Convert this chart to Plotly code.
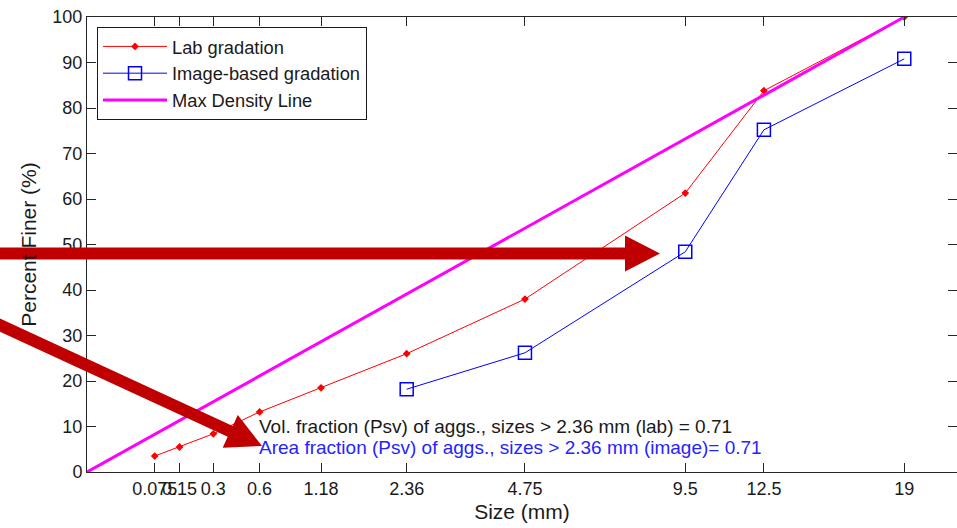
import plotly.graph_objects as go

# ---------------- data ----------------
sizes_lab = [0.075, 0.15, 0.3, 0.6, 1.18, 2.36, 4.75, 9.5, 12.5, 19]
pct_lab = [3.5, 5.5, 8.4, 13.2, 18.5, 26.0, 38.0, 61.3, 83.8, 100.0]

sizes_img = [2.36, 4.75, 9.5, 12.5, 19]
pct_img = [18.2, 26.2, 48.4, 75.2, 90.8]

sizes_mdl = [0, 19]
pct_mdl = [0, 100]

tick_sizes = [0.075, 0.15, 0.3, 0.6, 1.18, 2.36, 4.75, 9.5, 12.5, 19]
tick_labels = ["0.075", "0.15", "0.3", "0.6", "1.18", "2.36", "4.75", "9.5", "12.5", "19"]

POW = 0.45  # 0.45-power gradation chart scale


def sc(v):
    return [x ** POW for x in v]


W, H = 957, 528
ML, MR, MT, MB = 87, 0, 17, 56
PW, PH = W - ML - MR, H - MT - MB

FONT = "Liberation Sans, Arial, sans-serif"
TXT = "#1a1a1a"

fig = go.Figure()
fig.add_trace(go.Scatter(
    x=sc(sizes_lab), y=pct_lab, mode="lines+markers", name="Lab gradation",
    line=dict(color="#ff0000", width=1),
    marker=dict(symbol="diamond", size=6, color="#ff0000"),
    legendgroup="a"))
fig.add_trace(go.Scatter(
    x=sc(sizes_img), y=pct_img, mode="lines+markers", name="Image-based gradation",
    line=dict(color="#0000ff", width=1),
    marker=dict(symbol="square-open", size=13, color="#0000ff", line=dict(width=1.5)),
    legendgroup="b"))
fig.add_trace(go.Scatter(
    x=sc(sizes_mdl), y=pct_mdl, mode="lines", name="Max Density Line",
    line=dict(color="#ff00ff", width=3),
    legendgroup="c"))


def px2paper(px, py):
    return (px - ML) / PW, (H - MB - py) / PH


def arrow_path(tail, tip, shaft=12, head_len=35, head_w=36):
    import math
    (x0, y0), (x1, y1) = tail, tip
    dx, dy = x1 - x0, y1 - y0
    L = math.hypot(dx, dy)
    ux, uy = dx / L, dy / L
    nx, ny = -uy, ux
    bx, by = x1 - head_len * ux, y1 - head_len * uy
    pts = [
        (x0 + nx * shaft / 2, y0 + ny * shaft / 2),
        (bx + nx * shaft / 2, by + ny * shaft / 2),
        (bx + nx * head_w / 2, by + ny * head_w / 2),
        (x1, y1),
        (bx - nx * head_w / 2, by - ny * head_w / 2),
        (bx - nx * shaft / 2, by - ny * shaft / 2),
        (x0 - nx * shaft / 2, y0 - ny * shaft / 2),
    ]
    pp = [px2paper(a, b) for a, b in pts]
    return "M" + " L".join(f"{a:.5f},{b:.5f}" for a, b in pp) + " Z"


for tail, tip in [((-10, 253.5), (660, 253.5)), ((-10, 320.4), (262, 446))]:
    fig.add_shape(type="path", xref="paper", yref="paper",
                  path=arrow_path(tail, tip), fillcolor="#c00000",
                  line=dict(width=0), layer="above")

fig.add_annotation(x=0.6 ** POW, y=10, xref="x", yref="y", xanchor="left", yanchor="middle",
                   text="Vol. fraction (Psv) of aggs., sizes > 2.36 mm (lab) = 0.71",
                   showarrow=False, xshift=-3, font=dict(family=FONT, size=19, color=TXT))
fig.add_annotation(x=0.6 ** POW, y=5.3, xref="x", yref="y", xanchor="left", yanchor="middle",
                   text="Area fraction (Psv) of aggs., sizes > 2.36 mm (image)= 0.71",
                   showarrow=False, xshift=-3, font=dict(family=FONT, size=19, color="#2424ff"))

axis_common = dict(showline=True, linecolor="#262626", linewidth=1, mirror="ticks",
                   ticks="inside", ticklen=9, tickcolor="#262626", showgrid=False,
                   zeroline=False, automargin=False,
                   tickfont=dict(family=FONT, size=18, color=TXT))

fig.update_layout(
    width=W, height=H,
    margin=dict(l=ML, r=MR, t=MT, b=MB),
    paper_bgcolor="white", plot_bgcolor="white",
    font=dict(family=FONT, color=TXT),
    showlegend=True,
    legend=dict(x=(97 - ML) / PW, y=(H - MB - 27) / PH, xanchor="left", yanchor="top",
                bgcolor="white", bordercolor="#1a1a1a", borderwidth=1,
                font=dict(family=FONT, size=18.3, color=TXT), itemwidth=64,
                tracegroupgap=0, traceorder="grouped"),
    xaxis=dict(range=[0, 4.005], tickmode="array", tickvals=sc(tick_sizes), ticktext=tick_labels,
               tickangle=0, title=dict(text="Size (mm)", font=dict(family=FONT, size=21, color=TXT),
                                       standoff=6),
               **axis_common),
    yaxis=dict(range=[0, 100], tickmode="array", tickvals=list(range(0, 101, 10)),
               title=dict(text="Percent Finer (%)", font=dict(family=FONT, size=21, color=TXT),
                          standoff=10),
               **axis_common),
)

fig.write_html("out.html", config={"responsive": False, "displayModeBar": False},
               post_script="document.body.style.margin='0';document.body.style.overflow='hidden';")
